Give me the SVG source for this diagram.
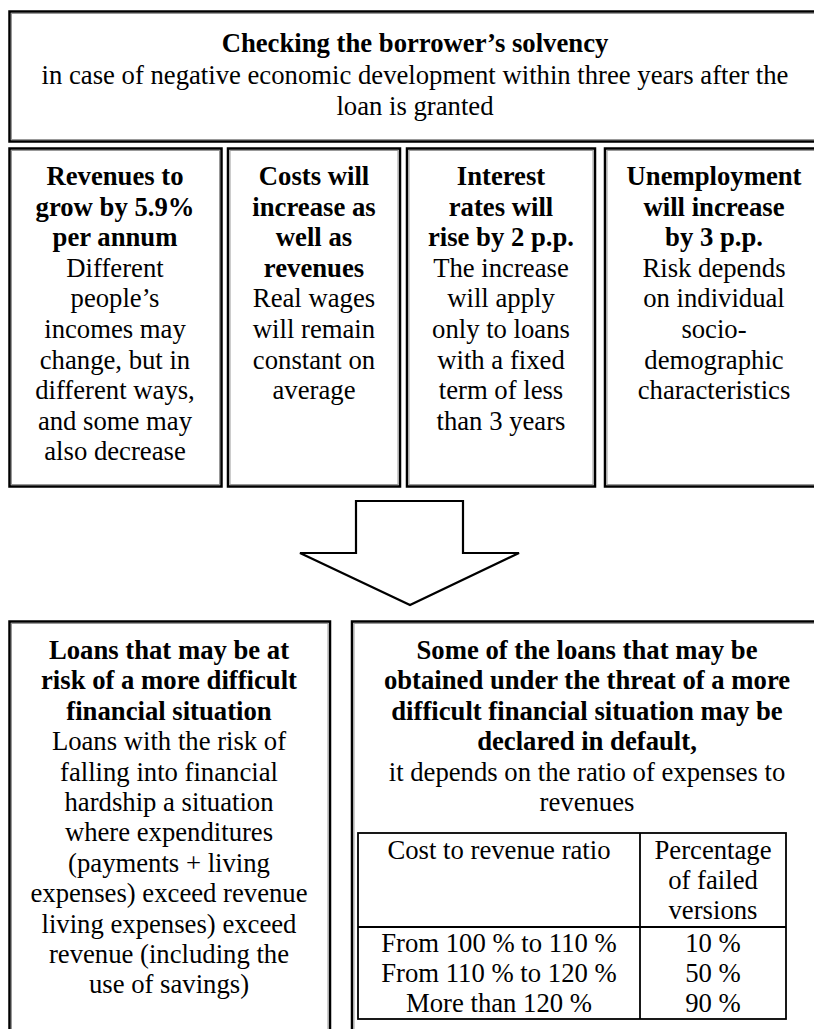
<svg xmlns="http://www.w3.org/2000/svg" width="814" height="1029" viewBox="0 0 814 1029">
<style>
.box{fill:#fff;stroke:#000;stroke-width:2.5}
.inner{fill:none;stroke:#999;stroke-width:1}
.tbl{fill:none;stroke:#000;stroke-width:1.8}
</style>
<rect width="814" height="1029" fill="#fff"/>
<g font-family="Liberation Serif" font-size="26.7" text-anchor="middle" fill="#000">
<g id="top">
<rect class="box" x="9.5" y="11.5" width="813" height="130"/>
<rect class="inner" x="11.5" y="13.5" width="809" height="126"/>
<text font-weight="bold" x="415" y="52">Checking the borrower’s solvency</text>
<text x="415" y="84">in case of negative economic development within three years after the</text>
<text x="415" y="115">loan is granted</text>
</g>
<g id="col1">
<rect class="box" x="9.5" y="148.5" width="212" height="338"/>
<rect class="inner" x="11.5" y="150.5" width="208" height="334"/>
<g font-weight="bold">
<text x="115" y="185">Revenues to</text>
<text x="115" y="215.6">grow by 5.9%</text>
<text x="115" y="246.2">per annum</text>
</g>
<text x="115" y="276.8">Different</text>
<text x="115" y="307.4">people’s</text>
<text x="115" y="338">incomes may</text>
<text x="115" y="368.6">change, but in</text>
<text x="115" y="399.2">different ways,</text>
<text x="115" y="429.8">and some may</text>
<text x="115" y="460.4">also decrease</text>
</g>
<g id="col2">
<rect class="box" x="228" y="148.5" width="172" height="338"/>
<rect class="inner" x="230" y="150.5" width="168" height="334"/>
<g font-weight="bold">
<text x="314" y="185">Costs will</text>
<text x="314" y="215.6">increase as</text>
<text x="314" y="246.2">well as</text>
<text x="314" y="276.8">revenues</text>
</g>
<text x="314" y="307.4">Real wages</text>
<text x="314" y="338">will remain</text>
<text x="314" y="368.6">constant on</text>
<text x="314" y="399.2">average</text>
</g>
<g id="col3">
<rect class="box" x="407" y="148.5" width="188" height="338"/>
<rect class="inner" x="409" y="150.5" width="184" height="334"/>
<g font-weight="bold">
<text x="501" y="185">Interest</text>
<text x="501" y="215.6">rates will</text>
<text x="501" y="246.2">rise by 2 p.p.</text>
</g>
<text x="501" y="276.8">The increase</text>
<text x="501" y="307.4">will apply</text>
<text x="501" y="338">only to loans</text>
<text x="501" y="368.6">with a fixed</text>
<text x="501" y="399.2">term of less</text>
<text x="501" y="429.8">than 3 years</text>
</g>
<g id="col4">
<rect class="box" x="605" y="148.5" width="218" height="338"/>
<rect class="inner" x="607" y="150.5" width="214" height="334"/>
<g font-weight="bold">
<text x="714" y="185">Unemployment</text>
<text x="714" y="215.6">will increase</text>
<text x="714" y="246.2">by 3 p.p.</text>
</g>
<text x="714" y="276.8">Risk depends</text>
<text x="714" y="307.4">on individual</text>
<text x="714" y="338">socio-</text>
<text x="714" y="368.6">demographic</text>
<text x="714" y="399.2">characteristics</text>
</g>
<g id="connectors">
<polygon points="356,501 463,501 463,553 519,553 410,605 300,553 356,553" fill="#fff" stroke="#000" stroke-width="2.2"/>
</g>
<g id="bottomLeft">
<rect class="box" x="9.5" y="621.5" width="320.5" height="420"/>
<rect class="inner" x="11.5" y="623.5" width="316.5" height="416"/>
<g font-weight="bold">
<text x="169" y="659">Loans that may be at</text>
<text x="169" y="689.4">risk of a more difficult</text>
<text x="169" y="719.8">financial situation</text>
</g>
<text x="169" y="750.2">Loans with the risk of</text>
<text x="169" y="780.6">falling into financial</text>
<text x="169" y="811">hardship a situation</text>
<text x="169" y="841.4">where expenditures</text>
<text x="169" y="871.8">(payments + living</text>
<text x="169" y="902.2">expenses) exceed revenue</text>
<text x="169" y="932.6">living expenses) exceed</text>
<text x="169" y="963">revenue (including the</text>
<text x="169" y="993.4">use of savings)</text>
</g>
<g id="bottomRight">
<rect class="box" x="352" y="621.5" width="471" height="420"/>
<rect class="inner" x="354" y="623.5" width="467" height="416"/>
<g font-weight="bold">
<text x="587" y="659">Some of the loans that may be</text>
<text x="587" y="689.4">obtained under the threat of a more</text>
<text x="587" y="719.8">difficult financial situation may be</text>
<text x="587" y="750.2">declared in default,</text>
</g>
<text x="587" y="780.6">it depends on the ratio of expenses to</text>
<text x="587" y="811">revenues</text>
<g id="table">
<rect class="tbl" x="358" y="833" width="428" height="186"/>
<line class="tbl" x1="640" y1="833" x2="640" y2="1019"/>
<line class="tbl" x1="358" y1="927" x2="786" y2="927"/>
<text x="499" y="859">Cost to revenue ratio</text>
<text x="713" y="859">Percentage</text>
<text x="713" y="889">of failed</text>
<text x="713" y="919">versions</text>
<text x="499" y="952">From 100 % to 110 %</text>
<text x="499" y="982">From 110 % to 120 %</text>
<text x="499" y="1012">More than 120 %</text>
<text x="713" y="952">10 %</text>
<text x="713" y="982">50 %</text>
<text x="713" y="1012">90 %</text>
</g>
</g>
</g>
</svg>
